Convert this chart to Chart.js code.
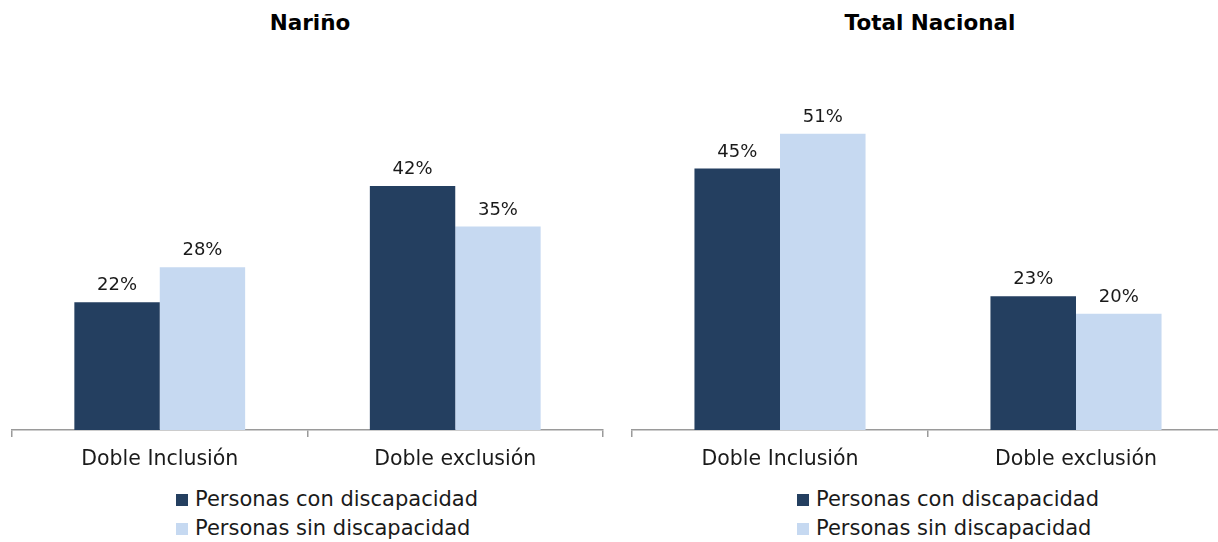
<!DOCTYPE html>
<html>
<head>
<meta charset="utf-8">
<script src="https://cdn.jsdelivr.net/npm/chart.js@4"></script>
<style>
  html, body { margin:0; padding:0; width:1218px; height:542px; overflow:hidden; background:#fff; font-family:"DejaVu Sans", sans-serif; }
  .panel { position:absolute; top:0; height:480px; }
  .title { position:absolute; top:10px; font-weight:bold; font-size:21.5px; color:#000; text-align:center; }
  .legend { position:absolute; top:485px; font-size:21px; color:#1a1a1a; }
  .legend div { height:29px; line-height:28px; white-space:nowrap; }
  .legend span.box { display:inline-block; width:12px; height:12px; margin-right:7px; vertical-align:0px; }
</style>
</head>
<body>
<div class="title" style="left:160px;width:300px;">Nariño</div>
<div class="title" style="left:780px;width:300px;">Total Nacional</div>
<div class="panel" style="left:0;width:615px;"><canvas id="c1"></canvas></div>
<div class="panel" style="left:620px;width:616px;"><canvas id="c2"></canvas></div>
<div class="legend" id="leg1" style="left:176px;"></div>
<div class="legend" id="leg2" style="left:797px;"></div>
<script>
const categories = ["Doble Inclusión", "Doble exclusión"];
const seriesNames = ["Personas con discapacidad", "Personas sin discapacidad"];
const narinoCon = [22, 42];
const narinoSin = [28, 35];
const nacionalCon = [45, 23];
const nacionalSin = [51, 20];
const colors = ["#243F60", "#C6D9F1"];

const labelPlugin = {
  id: "barLabels",
  afterDatasetsDraw(chart) {
    const ctx = chart.ctx;
    ctx.save();
    ctx.font = "18px 'DejaVu Sans', sans-serif";
    ctx.fillStyle = "#1a1a1a";
    ctx.textAlign = "center";
    ctx.textBaseline = "alphabetic";
    chart.data.datasets.forEach((ds, i) => {
      const meta = chart.getDatasetMeta(i);
      meta.data.forEach((bar, j) => {
        ctx.fillText(ds.data[j] + "%", bar.x, bar.y - 12);
      });
    });
    ctx.restore();
  }
};

function makeChart(id, con, sin, padRight) {
  new Chart(document.getElementById(id), {
    type: "bar",
    data: {
      labels: categories,
      datasets: [
        { label: seriesNames[0], data: con, backgroundColor: colors[0], categoryPercentage: 0.578, barPercentage: 1.0 },
        { label: seriesNames[1], data: sin, backgroundColor: colors[1], categoryPercentage: 0.578, barPercentage: 1.0 }
      ]
    },
    options: {
      responsive: true,
      maintainAspectRatio: false,
      animation: false,
      layout: { padding: { left: 12, right: padRight, top: 0, bottom: 0 } },
      plugins: { legend: { display: false }, tooltip: { enabled: false } },
      scales: {
        y: { display: false, min: 0, max: 74 },
        x: {
          afterFit: s => { s.height = 50; },
          border: { display: true, color: "#9a9a9a", width: 1.5 },
          grid: { display: true, drawOnChartArea: false, drawTicks: true, tickLength: 7, color: "#9a9a9a", lineWidth: 1.5, offset: true },
          ticks: { color: "#1a1a1a", padding: 10, font: { family: "'DejaVu Sans', sans-serif", size: 20.5 } }
        }
      }
    },
    plugins: [labelPlugin]
  });
}

makeChart("c1", narinoCon, narinoSin, 12);
makeChart("c2", nacionalCon, nacionalSin, 12);

function makeLegend(id) {
  const el = document.getElementById(id);
  seriesNames.forEach((n, i) => {
    const d = document.createElement("div");
    const b = document.createElement("span");
    b.className = "box";
    b.style.background = colors[i];
    d.appendChild(b);
    d.appendChild(document.createTextNode(n));
    el.appendChild(d);
  });
}
makeLegend("leg1");
makeLegend("leg2");
</script>
</body>
</html>
